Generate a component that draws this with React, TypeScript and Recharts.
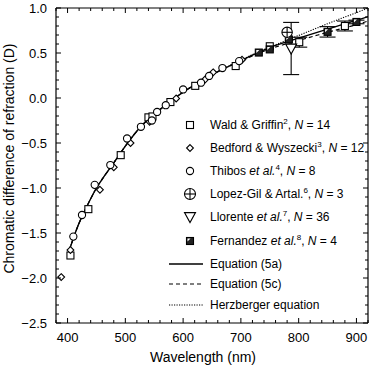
import {
  ComposedChart,
  Line,
  Scatter,
  ErrorBar,
  XAxis,
  YAxis,
  ReferenceLine,
  Legend,
} from 'recharts';

const FONT = '"Liberation Sans", Arial, Helvetica, sans-serif';

// measured points (wavelength nm, refraction D)
const waldNm = [405, 436, 492, 540, 547, 578, 621, 691, 750, 801, 880];
const waldD = [-1.75, -1.235, -0.635, -0.215, -0.205, -0.045, 0.135, 0.355, 0.575, 0.62, 0.8];
const waldErr = [null, null, null, null, null, null, null, null, null, 0.055, 0.055];

const bedfordNm = [389, 405, 456, 480, 509, 542, 588, 638, 652, 702];
const bedfordD = [-1.99, -1.69, -1.02, -0.77, -0.5, -0.265, -0.005, 0.205, 0.285, 0.425];

const thibosNm = [410, 425, 447, 474, 503, 527, 546, 555, 570, 600, 631, 645, 668, 697];
const thibosD = [-1.54, -1.3, -0.965, -0.745, -0.45, -0.32, -0.25, -0.155, -0.08, 0.095, 0.17, 0.245, 0.333, 0.41];

const lopezNm = [780];
const lopezD = [0.73];

const llorenteNm = [787];
const llorenteD = [0.55];
const llorenteErr = [0.29];

const fernandezNm = [731, 750, 783, 850, 900];
const fernandezD = [0.505, 0.54, 0.65, 0.735, 0.845];
const fernandezErr = [null, null, null, 0.058, 0.02];

// fitted curves
const curveNm = [403, 410, 420, 430, 440, 450, 465, 480, 500, 525, 550, 575, 600, 625, 650, 675, 700, 725, 750, 775, 800, 825, 850, 875, 900, 920];
const eq5aD = [-1.69, -1.56, -1.39, -1.25, -1.12, -1.0, -0.855, -0.72, -0.535, -0.33, -0.18, -0.055, 0.065, 0.165, 0.26, 0.34, 0.415, 0.49, 0.56, 0.615, 0.665, 0.715, 0.765, 0.815, 0.862, 0.905];
const eq5cD = [-1.69, -1.56, -1.39, -1.25, -1.12, -1.0, -0.855, -0.72, -0.535, -0.33, -0.18, -0.055, 0.065, 0.165, 0.26, 0.34, 0.41, 0.482, 0.545, 0.595, 0.64, 0.685, 0.73, 0.772, 0.815, 0.855];
const herzD = [-1.69, -1.56, -1.39, -1.25, -1.12, -1.0, -0.855, -0.72, -0.535, -0.33, -0.18, -0.055, 0.065, 0.165, 0.26, 0.34, 0.42, 0.497, 0.565, 0.63, 0.695, 0.76, 0.825, 0.888, 0.948, 1.0];

const xTicks = [380, 400, 420, 440, 460, 480, 500, 520, 540, 560, 580, 600, 620, 640, 660, 680, 700, 720, 740, 760, 780, 800, 820, 840, 860, 880, 900, 920];
const xLabels = [400, 500, 600, 700, 800, 900];
const yTicks = [
  -2.5, -2.4, -2.3, -2.2, -2.1, -2.0, -1.9, -1.8, -1.7, -1.6, -1.5, -1.4, -1.3, -1.2, -1.1, -1.0, -0.9, -0.8,
  -0.7, -0.6, -0.5, -0.4, -0.3, -0.2, -0.1, 0, 0.1, 0.2, 0.3, 0.4, 0.5, 0.6, 0.7, 0.8, 0.9, 1.0,
];
const yLabels = [-2.5, -2.0, -1.5, -1.0, -0.5, 0, 0.5, 1.0];

const W = 377;
const H = 365;
const MARGIN = { top: 8, right: 9, bottom: 0, left: 0 };
const Y_AXIS_W = 56;
const X_AXIS_H = 42;
const PLOT_TOP = MARGIN.top;
const PLOT_RIGHT = W - MARGIN.right;
const X_MARGIN = 10;
const Y_MARGIN = 9;

const zip = (xs: number[], ys: number[], es?: (number | null)[]) =>
  xs.map((x, i) => ({ x, y: ys[i], e: es ? es[i] : null }));

const XTick = (props: any) => {
  const { x, y, payload } = props;
  const v = payload.value;
  const major = v % 100 === 0;
  const len = major ? 5 : 3;
  const axisY = y - X_MARGIN;
  return (
    <g>
      <line x1={x} x2={x} y1={axisY} y2={axisY - len} stroke="#000" strokeWidth={1} />
      <line x1={x} x2={x} y1={PLOT_TOP} y2={PLOT_TOP + len} stroke="#000" strokeWidth={1} />
      {xLabels.includes(v) && (
        <text x={x} y={y} dy="0.71em" textAnchor="middle" fontSize={13} fontFamily={FONT} fill="#000">
          {v}
        </text>
      )}
    </g>
  );
};

const fmtY = (v: number) => (v < 0 ? '\u2212' + Math.abs(v).toFixed(1) : v.toFixed(1));

const YTick = (props: any) => {
  const { x, y, payload } = props;
  const v = payload.value;
  const major = yLabels.some((l) => Math.abs(l - v) < 1e-6);
  const len = major ? 5 : 3;
  const axisX = x + Y_MARGIN;
  return (
    <g>
      <line x1={axisX} x2={axisX + len} y1={y} y2={y} stroke="#000" strokeWidth={1} />
      <line x1={PLOT_RIGHT - len} x2={PLOT_RIGHT} y1={y} y2={y} stroke="#000" strokeWidth={1} />
      {major && (
        <text x={x} y={y} dy="0.355em" textAnchor="end" fontSize={13} fontFamily={FONT} fill="#000">
          {fmtY(v)}
        </text>
      )}
    </g>
  );
};

// symbol shapes
const SquareSym = ({ cx, cy, s = 3.5 }: any) => (
  <rect x={cx - s} y={cy - s} width={2 * s} height={2 * s} fill="#fff" stroke="#000" strokeWidth={1.1} />
);
const DiamondSym = ({ cx, cy, s = 3.4 }: any) => (
  <polygon
    points={`${cx},${cy - s} ${cx + s},${cy} ${cx},${cy + s} ${cx - s},${cy}`}
    fill="#fff"
    stroke="#000"
    strokeWidth={1.1}
  />
);
const CircleSym = ({ cx, cy, r = 3.6 }: any) => (
  <circle cx={cx} cy={cy} r={r} fill="#fff" stroke="#000" strokeWidth={1.1} />
);
const CrossCircleSym = ({ cx, cy, r = 5.2 }: any) => (
  <g>
    <circle cx={cx} cy={cy} r={r} fill="#fff" stroke="#000" strokeWidth={1.1} />
    <line x1={cx - r} x2={cx + r} y1={cy} y2={cy} stroke="#000" strokeWidth={1.1} />
    <line x1={cx} x2={cx} y1={cy - r} y2={cy + r} stroke="#000" strokeWidth={1.1} />
  </g>
);
const TriangleSym = ({ cx, cy, s = 5.5 }: any) => (
  <polygon
    points={`${cx - s},${cy - s * 0.8} ${cx + s},${cy - s * 0.8} ${cx},${cy + s}`}
    fill="#fff"
    stroke="#000"
    strokeWidth={1.1}
  />
);
const HalfSquareSym = ({ cx, cy, s = 3.5 }: any) => (
  <g>
    <rect x={cx - s} y={cy - s} width={2 * s} height={2 * s} fill="#222" stroke="#000" strokeWidth={1.1} />
    <polygon points={`${cx - s + 1},${cy - s + 1} ${cx + 0.5},${cy - s + 1} ${cx - s + 1},${cy + 0.5}`} fill="#fff" />
  </g>
);

const legendRows = [
  { y: 125, sym: 'square', label: <>Wald &amp; Griffin<Sup>2</Sup>, <i>N</i> = 14</> },
  { y: 148, sym: 'diamond', label: <>Bedford &amp; Wyszecki<Sup>3</Sup>, <i>N</i> = 12</> },
  { y: 171, sym: 'circle', label: <>Thibos <i>et al.</i><Sup>4</Sup>, <i>N</i> = 8</> },
  { y: 194, sym: 'cross', label: <>Lopez-Gil &amp; Artal.<Sup>6</Sup>, <i>N</i> = 3</> },
  { y: 217, sym: 'triangle', label: <>Llorente <i>et al.</i><Sup>7</Sup>, <i>N</i> = 36</> },
  { y: 241, sym: 'half', label: <>Fernandez <i>et al.</i><Sup>8</Sup>, <i>N</i> = 4</> },
  { y: 264, sym: 'solid', label: <>Equation (5a)</> },
  { y: 284, sym: 'dashed', label: <>Equation (5c)</> },
  { y: 305, sym: 'dotted', label: <>Herzberger equation</> },
];

function Sup({ children }: any) {
  return (
    <span style={{ fontSize: 8, verticalAlign: 'super', lineHeight: 0 }}>{children}</span>
  );
}

const LEGEND_LEFT = 160;
const LEGEND_TOP = 112;

function LegendSymbol({ sym }: { sym: string }) {
  const cx = 30;
  const cy = 10;
  let el: any = null;
  if (sym === 'square') el = <SquareSym cx={cx} cy={cy} />;
  if (sym === 'diamond') el = <DiamondSym cx={cx} cy={cy} />;
  if (sym === 'circle') el = <CircleSym cx={cx} cy={cy} />;
  if (sym === 'cross') el = <CrossCircleSym cx={cx} cy={cy} r={5.5} />;
  if (sym === 'triangle') el = <TriangleSym cx={cx} cy={cy} s={5.5} />;
  if (sym === 'half') el = <HalfSquareSym cx={cx} cy={cy} />;
  if (sym === 'solid') el = <line x1={9} x2={43} y1={cy} y2={cy} stroke="#000" strokeWidth={1.4} />;
  if (sym === 'dashed') el = <line x1={9} x2={43} y1={cy} y2={cy} stroke="#000" strokeWidth={1.2} strokeDasharray="4 3" />;
  if (sym === 'dotted') el = <line x1={9} x2={43} y1={cy} y2={cy} stroke="#000" strokeWidth={1.1} strokeDasharray="1.2 1.3" />;
  return (
    <svg width={45} height={20} style={{ display: 'block', flex: 'none' }}>
      {el}
    </svg>
  );
}

function renderLegend() {
  return (
    <div style={{ position: 'relative', width: 215, height: 205, fontFamily: FONT, fontSize: 12, color: '#000' }}>
      {legendRows.map((r, i) => (
        <div
          key={i}
          style={{
            position: 'absolute',
            left: 0,
            top: r.y - LEGEND_TOP - 10,
            height: 20,
            display: 'flex',
            alignItems: 'center',
            whiteSpace: 'nowrap',
          }}
        >
          <LegendSymbol sym={r.sym} />
          <span style={{ marginLeft: 5, lineHeight: '20px' }}>{r.label}</span>
        </div>
      ))}
    </div>
  );
}

export default function App() {
  const wald = zip(waldNm, waldD, waldErr);
  const bedford = zip(bedfordNm, bedfordD);
  const thibos = zip(thibosNm, thibosD);
  const lopez = zip(lopezNm, lopezD);
  const llorente = zip(llorenteNm, llorenteD, llorenteErr);
  const fernandez = zip(fernandezNm, fernandezD, fernandezErr);
  const eq5a = zip(curveNm, eq5aD);
  const eq5c = zip(curveNm, eq5cD);
  const herz = zip(curveNm, herzD);

  return (
    <div style={{ position: 'absolute', left: 0, top: 0, width: W, height: H, background: '#fff' }}>
      <ComposedChart width={W} height={H} margin={MARGIN}>
        <XAxis
          type="number"
          dataKey="x"
          domain={[380, 920]}
          allowDataOverflow
          ticks={xTicks}
          interval={0}
          tickSize={0}
          tickMargin={X_MARGIN}
          tickLine={false}
          tick={XTick}
          height={X_AXIS_H}
          axisLine={{ stroke: '#000', strokeWidth: 1.2 }}
          label={{
            content: (p: any) => (
              <text
                x={p.viewBox.x + p.viewBox.width / 2 - 9}
                y={p.viewBox.y + 39}
                textAnchor="middle"
                fontSize={14}
                fontFamily={FONT}
                fill="#000"
              >
                Wavelength (nm)
              </text>
            ),
          }}
        />
        <YAxis
          type="number"
          dataKey="y"
          domain={[-2.5, 1.0]}
          allowDataOverflow
          ticks={yTicks}
          interval={0}
          tickSize={0}
          tickMargin={Y_MARGIN}
          tickLine={false}
          tick={YTick}
          width={Y_AXIS_W}
          axisLine={{ stroke: '#000', strokeWidth: 1.2 }}
          label={{
            content: (p: any) => {
              const cx = 13.5;
              const cy = p.viewBox.y + p.viewBox.height / 2 - 7;
              return (
                <text
                  x={cx}
                  y={cy}
                  transform={`rotate(-90, ${cx}, ${cy})`}
                  textAnchor="middle"
                  fontSize={14}
                  fontFamily={FONT}
                  fill="#000"
                >
                  Chromatic difference of refraction (D)
                </text>
              );
            },
          }}
        />
        <ReferenceLine y={1.0} stroke="#000" strokeWidth={1.2} />
        <ReferenceLine x={920} stroke="#000" strokeWidth={1.2} />

        <Line data={herz} dataKey="y" type="monotone" dot={false} stroke="#000" strokeWidth={1.1} strokeDasharray="1.2 1.3" isAnimationActive={false} />
        <Line data={eq5c} dataKey="y" type="monotone" dot={false} stroke="#000" strokeWidth={1.2} strokeDasharray="4 3" isAnimationActive={false} />
        <Line data={eq5a} dataKey="y" type="monotone" dot={false} stroke="#000" strokeWidth={1.4} isAnimationActive={false} />

        <Scatter data={wald} shape={(p: any) => <SquareSym cx={p.cx} cy={p.cy} />} isAnimationActive={false}>
          <ErrorBar dataKey="e" direction="y" width={8} stroke="#000" strokeWidth={1.1} />
        </Scatter>
        <Scatter data={bedford} shape={(p: any) => <DiamondSym cx={p.cx} cy={p.cy} />} isAnimationActive={false} />
        <Scatter data={thibos} shape={(p: any) => <CircleSym cx={p.cx} cy={p.cy} />} isAnimationActive={false} />
        <Scatter data={fernandez} shape={(p: any) => <HalfSquareSym cx={p.cx} cy={p.cy} />} isAnimationActive={false}>
          <ErrorBar dataKey="e" direction="y" width={8} stroke="#000" strokeWidth={1.1} />
        </Scatter>
        <Scatter data={llorente} shape={(p: any) => <TriangleSym cx={p.cx} cy={p.cy} />} isAnimationActive={false}>
          <ErrorBar dataKey="e" direction="y" width={8} stroke="#000" strokeWidth={1.1} />
        </Scatter>
        <Scatter data={lopez} shape={(p: any) => <CrossCircleSym cx={p.cx} cy={p.cy} />} isAnimationActive={false} />

        <Legend
          layout="vertical"
          align="center"
          verticalAlign="middle"
          content={renderLegend}
          wrapperStyle={{ left: LEGEND_LEFT, top: LEGEND_TOP, width: 215, height: 205 }}
        />
      </ComposedChart>
    </div>
  );
}
